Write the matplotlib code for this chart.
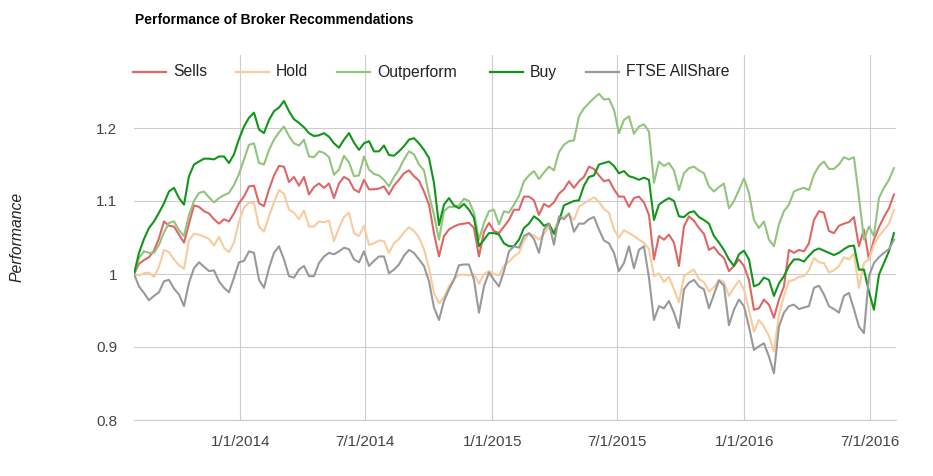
import matplotlib
matplotlib.use("Agg")
import matplotlib.pyplot as plt
from matplotlib.lines import Line2D
import pandas as pd

plt.rcParams['font.family'] = ['Liberation Sans', 'DejaVu Sans']

# roughly weekly closes
dates = pd.date_range("2013-07-31", "2016-08-05", periods=153)

sells = [1.000, 1.014, 1.019, 1.023, 1.032, 1.049, 1.072, 1.066, 1.065, 1.054, 1.043, 1.069, 1.094,
         1.092, 1.086, 1.083, 1.075, 1.069, 1.075, 1.072, 1.083, 1.097, 1.106, 1.120, 1.121, 1.097,
         1.093, 1.116, 1.135, 1.148, 1.147, 1.126, 1.133, 1.121, 1.133, 1.109, 1.119, 1.124, 1.118,
         1.124, 1.104, 1.124, 1.133, 1.129, 1.116, 1.112, 1.129, 1.116, 1.116, 1.117, 1.120, 1.109,
         1.121, 1.129, 1.138, 1.142, 1.134, 1.128, 1.113, 1.095, 1.056, 1.024, 1.052, 1.061, 1.065,
         1.068, 1.069, 1.070, 1.063, 1.024, 1.058, 1.070, 1.059, 1.056, 1.065, 1.074, 1.088, 1.088,
         1.106, 1.106, 1.101, 1.081, 1.096, 1.092, 1.098, 1.110, 1.116, 1.127, 1.118, 1.127, 1.133,
         1.147, 1.144, 1.135, 1.127, 1.129, 1.116, 1.106, 1.106, 1.092, 1.104, 1.106, 1.098, 1.081,
         1.020, 1.052, 1.047, 1.054, 1.043, 1.011, 1.065, 1.079, 1.073, 1.063, 1.055, 1.033, 1.037,
         1.028, 1.022, 1.004, 1.011, 1.020, 1.011, 0.992, 0.951, 0.953, 0.965, 0.958, 0.940, 0.965,
         0.983, 1.033, 1.029, 1.033, 1.031, 1.042, 1.074, 1.086, 1.084, 1.059, 1.056, 1.066, 1.069,
         1.071, 1.078, 1.038, 1.061, 1.020, 1.047, 1.064, 1.078, 1.090, 1.109]

hold = [1.000, 0.998, 1.001, 1.002, 0.996, 1.010, 1.033, 1.030, 1.020, 1.012, 1.007, 1.046, 1.055,
        1.054, 1.051, 1.048, 1.039, 1.051, 1.036, 1.030, 1.043, 1.072, 1.091, 1.098, 1.097, 1.065,
        1.058, 1.079, 1.098, 1.115, 1.110, 1.088, 1.084, 1.075, 1.087, 1.065, 1.065, 1.072, 1.071,
        1.073, 1.045, 1.063, 1.078, 1.084, 1.056, 1.052, 1.066, 1.040, 1.042, 1.046, 1.045, 1.029,
        1.042, 1.048, 1.057, 1.064, 1.059, 1.050, 1.034, 1.008, 0.974, 0.960, 0.968, 0.983, 0.993,
        0.999, 0.999, 0.998, 1.000, 0.987, 1.000, 1.004, 1.000, 0.998, 1.011, 1.017, 1.024, 1.029,
        1.046, 1.055, 1.053, 1.047, 1.055, 1.064, 1.060, 1.074, 1.079, 1.081, 1.074, 1.092, 1.097,
        1.101, 1.105, 1.099, 1.089, 1.084, 1.061, 1.050, 1.060, 1.056, 1.052, 1.047, 1.043, 1.034,
        0.997, 1.001, 0.989, 0.996, 0.979, 0.961, 0.997, 1.002, 1.006, 0.993, 0.989, 0.976, 0.982,
        0.992, 0.989, 0.970, 0.981, 0.991, 0.979, 0.951, 0.921, 0.937, 0.928, 0.915, 0.894, 0.944,
        0.970, 0.990, 0.992, 0.996, 0.997, 1.005, 1.022, 1.016, 1.015, 1.002, 1.005, 1.011, 1.023,
        1.020, 1.028, 0.981, 1.015, 1.020, 1.040, 1.052, 1.060, 1.069, 1.088]

outperform = [1.000, 1.022, 1.031, 1.029, 1.029, 1.040, 1.057, 1.070, 1.072, 1.060, 1.052, 1.081, 1.100,
              1.111, 1.113, 1.105, 1.098, 1.104, 1.108, 1.111, 1.122, 1.137, 1.157, 1.177, 1.179, 1.152,
              1.150, 1.170, 1.184, 1.194, 1.202, 1.189, 1.179, 1.176, 1.184, 1.161, 1.160, 1.168, 1.166,
              1.160, 1.136, 1.143, 1.162, 1.153, 1.134, 1.135, 1.161, 1.143, 1.137, 1.135, 1.129, 1.120,
              1.133, 1.143, 1.157, 1.168, 1.164, 1.150, 1.142, 1.109, 1.081, 1.047, 1.086, 1.092, 1.092,
              1.094, 1.103, 1.100, 1.084, 1.047, 1.070, 1.086, 1.088, 1.068, 1.086, 1.084, 1.095, 1.107,
              1.127, 1.135, 1.141, 1.130, 1.139, 1.147, 1.142, 1.167, 1.177, 1.182, 1.183, 1.216, 1.227,
              1.234, 1.241, 1.247, 1.239, 1.240, 1.225, 1.193, 1.211, 1.216, 1.192, 1.202, 1.205, 1.195,
              1.125, 1.154, 1.148, 1.152, 1.142, 1.115, 1.138, 1.145, 1.147, 1.142, 1.138, 1.120, 1.113,
              1.119, 1.124, 1.090, 1.100, 1.115, 1.131, 1.111, 1.074, 1.063, 1.072, 1.047, 1.038, 1.068,
              1.086, 1.095, 1.113, 1.116, 1.118, 1.115, 1.136, 1.148, 1.154, 1.144, 1.144, 1.150, 1.160,
              1.157, 1.160, 1.106, 1.047, 1.065, 1.052, 1.104, 1.118, 1.129, 1.145]

buy = [1.000, 1.029, 1.048, 1.063, 1.072, 1.084, 1.097, 1.113, 1.118, 1.104, 1.095, 1.134, 1.150,
       1.154, 1.158, 1.158, 1.157, 1.161, 1.161, 1.152, 1.164, 1.185, 1.202, 1.214, 1.221, 1.198,
       1.193, 1.211, 1.223, 1.228, 1.237, 1.223, 1.212, 1.207, 1.201, 1.193, 1.189, 1.190, 1.193,
       1.188, 1.179, 1.173, 1.184, 1.193, 1.180, 1.170, 1.179, 1.182, 1.168, 1.168, 1.176, 1.163,
       1.162, 1.168, 1.175, 1.184, 1.186, 1.179, 1.170, 1.159, 1.125, 1.067, 1.095, 1.104, 1.094,
       1.090, 1.096, 1.088, 1.077, 1.038, 1.047, 1.056, 1.056, 1.054, 1.042, 1.038, 1.038, 1.047,
       1.063, 1.069, 1.079, 1.074, 1.066, 1.069, 1.055, 1.072, 1.094, 1.097, 1.100, 1.101, 1.121,
       1.133, 1.135, 1.150, 1.152, 1.154, 1.148, 1.138, 1.141, 1.134, 1.132, 1.129, 1.132, 1.129,
       1.074, 1.095, 1.100, 1.104, 1.100, 1.079, 1.078, 1.084, 1.086, 1.078, 1.074, 1.069, 1.052,
       1.043, 1.033, 1.020, 1.011, 1.027, 1.032, 1.020, 0.983, 0.986, 0.995, 0.992, 0.970, 0.987,
       0.997, 1.011, 1.020, 1.020, 1.017, 1.025, 1.032, 1.035, 1.032, 1.029, 1.026, 1.029, 1.034,
       1.038, 1.039, 1.006, 1.006, 0.976, 0.951, 0.999, 1.015, 1.031, 1.056]

ftse = [1.000, 0.983, 0.974, 0.964, 0.970, 0.975, 0.990, 0.992, 0.980, 0.972, 0.956, 0.988, 1.008,
        1.016, 1.010, 1.004, 1.005, 0.990, 0.981, 0.975, 0.995, 1.016, 1.018, 1.031, 1.029, 0.992,
        0.981, 1.008, 1.029, 1.038, 1.020, 0.997, 0.995, 1.006, 1.011, 0.997, 0.997, 1.015, 1.024,
        1.029, 1.027, 1.031, 1.036, 1.034, 1.020, 1.016, 1.031, 1.011, 1.018, 1.024, 1.024, 1.001,
        1.006, 1.013, 1.025, 1.033, 1.029, 1.020, 1.011, 0.990, 0.954, 0.937, 0.963, 0.979, 0.992,
        1.012, 1.013, 1.013, 0.992, 0.947, 0.983, 1.002, 0.992, 0.983, 1.004, 1.031, 1.038, 1.036,
        1.052, 1.056, 1.048, 1.029, 1.061, 1.069, 1.040, 1.079, 1.075, 1.083, 1.058, 1.069, 1.069,
        1.075, 1.078, 1.061, 1.046, 1.042, 1.029, 1.004, 1.015, 1.038, 1.008, 1.033, 1.038, 0.995,
        0.937, 0.956, 0.953, 0.963, 0.947, 0.926, 0.979, 0.988, 0.992, 0.983, 0.979, 0.953, 0.972,
        0.991, 0.984, 0.930, 0.951, 0.965, 0.956, 0.928, 0.896, 0.901, 0.905, 0.887, 0.864, 0.928,
        0.947, 0.956, 0.958, 0.952, 0.954, 0.956, 0.981, 0.984, 0.972, 0.956, 0.952, 0.947, 0.970,
        0.974, 0.952, 0.928, 0.919, 0.997, 1.015, 1.023, 1.029, 1.034, 1.047]

names = ["Sells", "Hold", "Outperform", "Buy", "FTSE AllShare"]
colors = ["#e06666", "#f9cb9c", "#93c47d", "#109618", "#999999"]

tick_dates = ["2014-01-01", "2014-07-01", "2015-01-01", "2015-07-01", "2016-01-01", "2016-07-01"]
tick_labels = ["1/1/2014", "7/1/2014", "1/1/2015", "7/1/2015", "1/1/2016", "7/1/2016"]
y_ticks = [0.8, 0.9, 1.0, 1.1, 1.2]
y_labels = ["0.8", "0.9", "1", "1.1", "1.2"]

W, H = 933, 476
fig = plt.figure(figsize=(W / 100, H / 100), dpi=100)
ax = fig.add_axes([134 / W, 56 / H, 762 / W, 365 / H])

for vals, c in zip([sells, hold, outperform, buy, ftse], colors):
    ax.plot(dates, vals, color=c, lw=1.5, solid_joinstyle="round")

ax.set_ylim(0.8, 1.3)
ax.set_xlim(pd.Timestamp("2013-07-31"), pd.Timestamp("2016-08-08"))
ax.set_yticks(y_ticks)
ax.set_yticklabels(y_labels)
ax.set_xticks(pd.to_datetime(tick_dates))
ax.set_xticklabels(tick_labels)
ax.tick_params(length=0, labelsize=11, labelcolor="#444444")
ax.tick_params(axis="y", pad=12)
ax.tick_params(axis="x", pad=10.5)
ax.grid(True, color="#cccccc", lw=0.8)
ax.set_axisbelow(True)
for s in ax.spines.values():
    s.set_visible(False)
ax.spines["bottom"].set_visible(True)
ax.spines["bottom"].set_color("#cccccc")

fig.text(135 / W, 1 - 24 / H, "Performance of Broker Recommendations", fontsize=10,
         fontweight="bold", va="baseline", color="#000000")
fig.text(17 / W, 1 - 237 / H, "Performance", fontsize=11.3, style="italic",
         rotation=90, ha="center", va="center", color="#222222")

# legend along the top, drawn by hand like the original
leg_x = [133, 236, 337, 490, 586]
leg_y = 1 - 72 / H
for x0, name, c in zip(leg_x, names, colors):
    fig.add_artist(Line2D([x0 / W, (x0 + 33) / W], [leg_y, leg_y], color=c, lw=1.6,
                          transform=fig.transFigure))
    fig.text((x0 + 40) / W, leg_y, name, fontsize=11.3, va="center", color="#222222")

fig.savefig("out.png", dpi=100)
